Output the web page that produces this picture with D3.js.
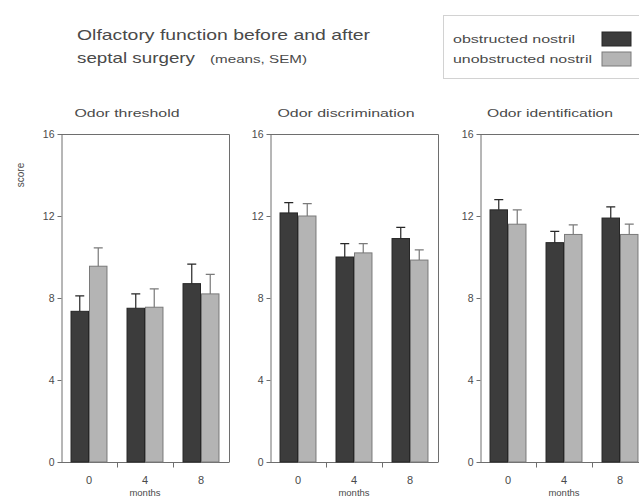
<!DOCTYPE html>
<html>
<head>
<meta charset="utf-8">
<script src="https://cdn.jsdelivr.net/npm/d3@7"></script>
<style>
  body { margin: 0; background: #fff; }
  text { font-family: "Liberation Sans", Arial, sans-serif; fill: #4a4a4a; }
</style>
</head>
<body>
<svg id="chart"></svg>
<script>
// data
const months = ["0", "4", "8"];
const seriesNames = ["obstructed nostril", "unobstructed nostril"];
const panelTitles = ["Odor threshold", "Odor discrimination", "Odor identification"];
const yTicks = [0, 4, 8, 12, 16];

const thresholdObstructed = [7.35, 7.5, 8.7];
const thresholdObstructedSem = [0.75, 0.7, 0.95];
const thresholdUnobstructed = [9.55, 7.55, 8.2];
const thresholdUnobstructedSem = [0.9, 0.9, 0.95];

const discriminationObstructed = [12.15, 10.0, 10.9];
const discriminationObstructedSem = [0.5, 0.65, 0.55];
const discriminationUnobstructed = [12.0, 10.2, 9.85];
const discriminationUnobstructedSem = [0.6, 0.45, 0.5];

const identificationObstructed = [12.3, 10.7, 11.9];
const identificationObstructedSem = [0.5, 0.55, 0.55];
const identificationUnobstructed = [11.6, 11.1, 11.1];
const identificationUnobstructedSem = [0.7, 0.47, 0.5];

const panels = [
  { title: panelTitles[0], means: [thresholdObstructed, thresholdUnobstructed], sems: [thresholdObstructedSem, thresholdUnobstructedSem] },
  { title: panelTitles[1], means: [discriminationObstructed, discriminationUnobstructed], sems: [discriminationObstructedSem, discriminationUnobstructedSem] },
  { title: panelTitles[2], means: [identificationObstructed, identificationUnobstructed], sems: [identificationObstructedSem, identificationUnobstructedSem] }
];

const width = 639, height = 499;
const panelLeft = [61, 270, 480];
const panelWidth = 168;
const titleCenters = [127, 346, 550];
const titleLengths = [105, 137, 126];
const fills = ["#3c3c3c", "#b4b4b4"];
const strokes = ["#262626", "#7a7a7a"];
const frameColor = "#6e6e6e";

const svg = d3.select("#chart")
    .attr("width", width)
    .attr("height", height);

// main title
svg.append("text")
    .attr("x", 77).attr("y", 40)
    .attr("font-size", "15px")
    .attr("textLength", 293).attr("lengthAdjust", "spacingAndGlyphs")
    .text("Olfactory function before and after");
svg.append("text")
    .attr("x", 77).attr("y", 63)
    .attr("font-size", "15px")
    .attr("textLength", 118).attr("lengthAdjust", "spacingAndGlyphs")
    .text("septal surgery");
svg.append("text")
    .attr("x", 210).attr("y", 63)
    .attr("font-size", "10.5px")
    .attr("textLength", 97).attr("lengthAdjust", "spacingAndGlyphs")
    .text("(means, SEM)");

// legend
const legend = svg.append("g");
legend.append("rect")
    .attr("x", 443.5).attr("y", 15.5)
    .attr("width", 210).attr("height", 63)
    .attr("fill", "none")
    .attr("stroke", "#d2d2d2");
const legendLengths = [122, 139];
seriesNames.forEach((name, i) => {
  legend.append("text")
      .attr("x", 453).attr("y", 43 + i * 20)
      .attr("font-size", "11px")
      .attr("textLength", legendLengths[i]).attr("lengthAdjust", "spacingAndGlyphs")
      .text(name);
  legend.append("rect")
      .attr("x", 602).attr("y", 32 + i * 20)
      .attr("width", 29).attr("height", 14)
      .attr("fill", fills[i])
      .attr("stroke", strokes[i]);
});

// shared scales
const yScale = d3.scaleLinear()
    .domain([0, 16])
    .range([462, 134]);

const xScale = d3.scaleBand()
    .domain(months)
    .range([0, panelWidth])
    .paddingInner(0.34)
    .paddingOuter(0.17);

const xSub = d3.scaleBand()
    .domain(d3.range(seriesNames.length))
    .range([0, xScale.bandwidth()]);

// y label
svg.append("text")
    .attr("transform", `translate(24, 175) rotate(-90)`)
    .attr("text-anchor", "middle")
    .attr("font-size", "10px")
    .text("score");

panels.forEach((p, pi) => {
  const g = svg.append("g")
      .attr("transform", `translate(${panelLeft[pi]},0)`);

  // panel title
  svg.append("text")
      .attr("x", titleCenters[pi] - titleLengths[pi] / 2).attr("y", 117)
      .attr("font-size", "10.5px")
      .attr("textLength", titleLengths[pi]).attr("lengthAdjust", "spacingAndGlyphs")
      .text(p.title);

  // frame top + right
  g.append("path")
      .attr("d", `M0,${yScale(16) + 0.5}H${panelWidth + 0.5}V${yScale(0)}`)
      .attr("fill", "none")
      .attr("stroke", frameColor);

  // y axis
  const yAxisG = g.append("g")
      .attr("transform", "translate(0.5,0)")
      .call(d3.axisLeft(yScale).tickValues(yTicks).tickSize(4).tickPadding(3).tickSizeOuter(0));
  yAxisG.selectAll("line, path").attr("stroke", frameColor);
  yAxisG.selectAll("text").attr("font-size", "10.5px").attr("fill", "#4a4a4a").style("font-family", "Liberation Sans, Arial, sans-serif");

  // x axis: ticks on band boundaries, labels at band centers
  const xAxisG = g.append("g")
      .attr("transform", `translate(0,${yScale(0) + 0.5})`);
  xAxisG.append("path")
      .attr("d", `M-3,0H${panelWidth + 0.5}`)
      .attr("stroke", frameColor);
  const bounds = months.slice(1).map(m => xScale(m) - xScale.step() * xScale.paddingInner() / 2);
  xAxisG.selectAll(".bound")
    .data(bounds)
    .enter().append("line")
      .attr("x1", d => d + 0.5).attr("x2", d => d + 0.5)
      .attr("y1", 0).attr("y2", 5)
      .attr("stroke", frameColor);
  xAxisG.selectAll(".lab")
    .data(months)
    .enter().append("text")
      .attr("x", d => xScale(d) + xScale.bandwidth() / 2)
      .attr("y", 21)
      .attr("text-anchor", "middle")
      .attr("font-size", "11px")
      .text(d => d);
  g.append("text")
      .attr("x", xScale(months[1]) + xScale.bandwidth() / 2)
      .attr("y", 496)
      .attr("text-anchor", "middle")
      .attr("font-size", "9.5px")
      .text("months");

  // bars and error bars
  p.means.forEach((vals, si) => {
    const rows = months.map((m, mi) => ({ m, v: vals[mi], e: p.sems[si][mi] }));
    const sg = g.append("g");
    sg.selectAll("rect")
      .data(rows)
      .enter().append("rect")
        .attr("x", d => xScale(d.m) + xSub(si) + 0.5)
        .attr("y", d => yScale(d.v))
        .attr("width", xSub.bandwidth() - 1)
        .attr("height", d => yScale(0) - yScale(d.v))
        .attr("fill", fills[si])
        .attr("stroke", strokes[si]);
    const cx = d => xScale(d.m) + xSub(si) + xSub.bandwidth() / 2;
    sg.selectAll(".err")
      .data(rows)
      .enter().append("path")
        .attr("d", d => `M${cx(d)},${yScale(d.v)}V${yScale(d.v + d.e)}M${cx(d) - 4.5},${yScale(d.v + d.e)}H${cx(d) + 4.5}`)
        .attr("fill", "none")
        .attr("stroke", strokes[si])
        .attr("stroke-width", 1.2);
  });
});
</script>
</body>
</html>
